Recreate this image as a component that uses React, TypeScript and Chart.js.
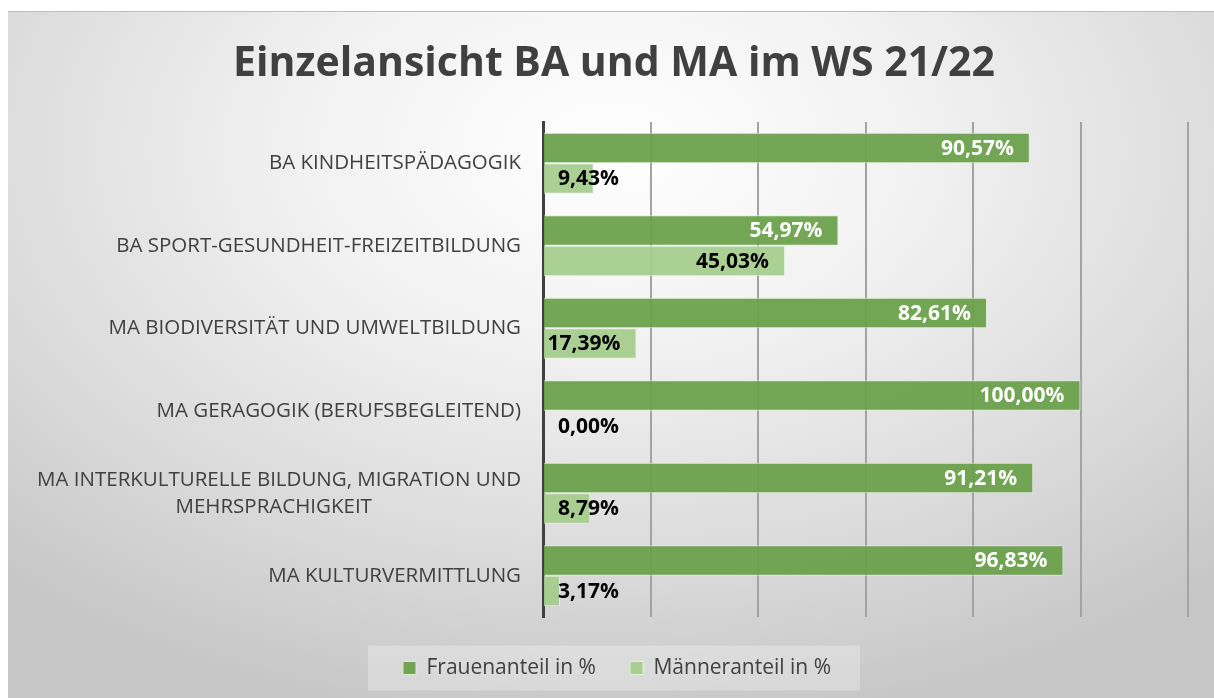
import React, { useEffect, useRef } from 'react';
import { Chart, registerables } from 'chart.js';

Chart.register(...registerables);

const chartTitle = 'Einzelansicht BA und MA im WS 21/22';
const categories: (string | string[])[] = [
  'BA KINDHEITSPÄDAGOGIK',
  'BA SPORT-GESUNDHEIT-FREIZEITBILDUNG',
  'MA BIODIVERSITÄT UND UMWELTBILDUNG',
  'MA GERAGOGIK (BERUFSBEGLEITEND)',
  ['MA INTERKULTURELLE BILDUNG, MIGRATION UND', 'MEHRSPRACHIGKEIT'],
  'MA KULTURVERMITTLUNG',
];
const seriesNames = ['Frauenanteil in %', 'Männeranteil in %'];
const frauenanteil = [90.57, 54.97, 82.61, 100.0, 91.21, 96.83];
const maenneranteil = [9.43, 45.03, 17.39, 0.0, 8.79, 3.17];
const axisMin = 0;
const axisMax = 120;
const axisStep = 20;

const FONT = '"Open Sans", sans-serif';
const TEXT = '#404040';
const LEGEND_FONT = 21;
const LEGEND_PAD = 34;
const LEGEND_SHIFT = 19;
const TITLE_SHIFT = 16;

const boxShift = {
  id: 'boxShift',
  afterLayout(chart: any) {
    const lg = chart.legend;
    if (lg) {
      lg.left += LEGEND_SHIFT;
      lg.right += LEGEND_SHIFT;
    }
    const tb = chart.titleBlock;
    if (tb) {
      tb.left += TITLE_SHIFT;
      tb.right += TITLE_SHIFT;
    }
  },
};

const legendBackground = {
  id: 'legendBackground',
  beforeDraw(chart: any) {
    const lg = chart.legend;
    if (!lg || !lg.lineWidths) return;
    const lw = lg.lineWidths[0];
    const start = (lg.left + LEGEND_PAD + lg.right - lw) / 2;
    const end = start + lw - LEGEND_PAD;
    const cy = lg.top + LEGEND_PAD + LEGEND_FONT / 2;
    const ctx = chart.ctx;
    ctx.save();
    ctx.fillStyle = 'rgba(255,255,255,0.28)';
    const left = start - 35;
    const right = end + 29;
    ctx.fillRect(left, cy - 22.5, right - left, 45);
    ctx.restore();
  },
};

const valueLabels = {
  id: 'valueLabels',
  afterDatasetsDraw(chart: any) {
    const ctx = chart.ctx;
    const area = chart.chartArea;
    ctx.save();
    ctx.font = `bold 21px ${FONT}`;
    ctx.textAlign = 'right';
    ctx.textBaseline = 'middle';
    chart.data.datasets.forEach((ds: any, di: number) => {
      const meta = chart.getDatasetMeta(di);
      meta.data.forEach((bar: any, i: number) => {
        const v = ds.data[i] as number;
        const text = v.toFixed(2).replace('.', ',') + '%';
        const right = Math.max(bar.x - 16, area.left + 76);
        ctx.fillStyle = di === 0 ? '#ffffff' : '#000000';
        ctx.fillText(text, right, bar.y + 1);
      });
    });
    ctx.restore();
  },
};

export default function App() {
  const ref = useRef<HTMLCanvasElement | null>(null);

  useEffect(() => {
    if (!ref.current) return;
    const chart = new Chart(ref.current, {
      type: 'bar',
      data: {
        labels: categories as any,
        datasets: [
          {
            label: seriesNames[0],
            data: frauenanteil,
            backgroundColor: 'rgba(104,160,72,0.93)',
            borderColor: 'rgba(225,238,218,0.9)',
            borderWidth: (c: any) => (c.raw > 0 ? 1 : 0),
            categoryPercentage: 0.74,
            barPercentage: 1,
          },
          {
            label: seriesNames[1],
            data: maenneranteil,
            backgroundColor: 'rgba(164,204,140,0.93)',
            borderColor: 'rgba(230,242,224,0.9)',
            borderWidth: (c: any) => (c.raw > 0 ? 1 : 0),
            categoryPercentage: 0.74,
            barPercentage: 1,
          },
        ],
      },
      options: {
        indexAxis: 'y',
        animation: false,
        responsive: true,
        maintainAspectRatio: false,
        layout: { padding: { left: 0, right: 26, top: 0, bottom: 9.5 } },
        plugins: {
          title: {
            display: true,
            text: chartTitle,
            color: TEXT,
            font: { family: FONT, size: 41, weight: 'bold' },
            padding: { top: 29, bottom: 32.8 },
          },
          legend: {
            position: 'bottom',
            labels: {
              color: TEXT,
              font: { family: FONT, size: LEGEND_FONT },
              boxWidth: 13,
              boxHeight: 13,
              padding: LEGEND_PAD,
            },
          },
          tooltip: { enabled: false },
        },
        scales: {
          x: {
            min: axisMin,
            max: axisMax,
            ticks: { display: false, stepSize: axisStep },
            grid: {
              color: (c: any) => (c.index === 0 ? 'rgba(0,0,0,0)' : '#a3a3a3'),
              lineWidth: 2,
              drawTicks: false,
            },
            border: { display: false },
            afterFit: (s: any) => {
              s.height = 6.5;
            },
          },
          y: {
            ticks: {
              color: TEXT,
              font: { family: FONT, size: 20.5, lineHeight: 1.32 },
              padding: 22,
              callback: (value: any, index: number) => {
                const l = categories[index];
                if (Array.isArray(l)) {
                  return l.map((line, k) => (k === 0 ? line : line + '\u00a0'.repeat(28)));
                }
                return l;
              },
            },
            grid: { display: true, drawOnChartArea: false, drawTicks: false },
            border: { display: true, color: TEXT, width: 3 },
            afterFit: (s: any) => {
              s.width = 535;
            },
          },
        },
      } as any,
      plugins: [boxShift, legendBackground, valueLabels],
    });
    return () => chart.destroy();
  }, []);

  return (
    <div
      style={{
        position: 'fixed',
        left: 8,
        top: 11,
        width: 1206,
        height: 687,
        background:
          'radial-gradient(ellipse 75% 85% at 50% 20%, #ffffff 0%, #f1f1f1 35%, #dbdbdb 70%, #c6c6c6 100%)',
        boxShadow: 'inset 0 1px 0 #bdbdbd',
      }}
    >
      <canvas ref={ref} />
    </div>
  );
}
